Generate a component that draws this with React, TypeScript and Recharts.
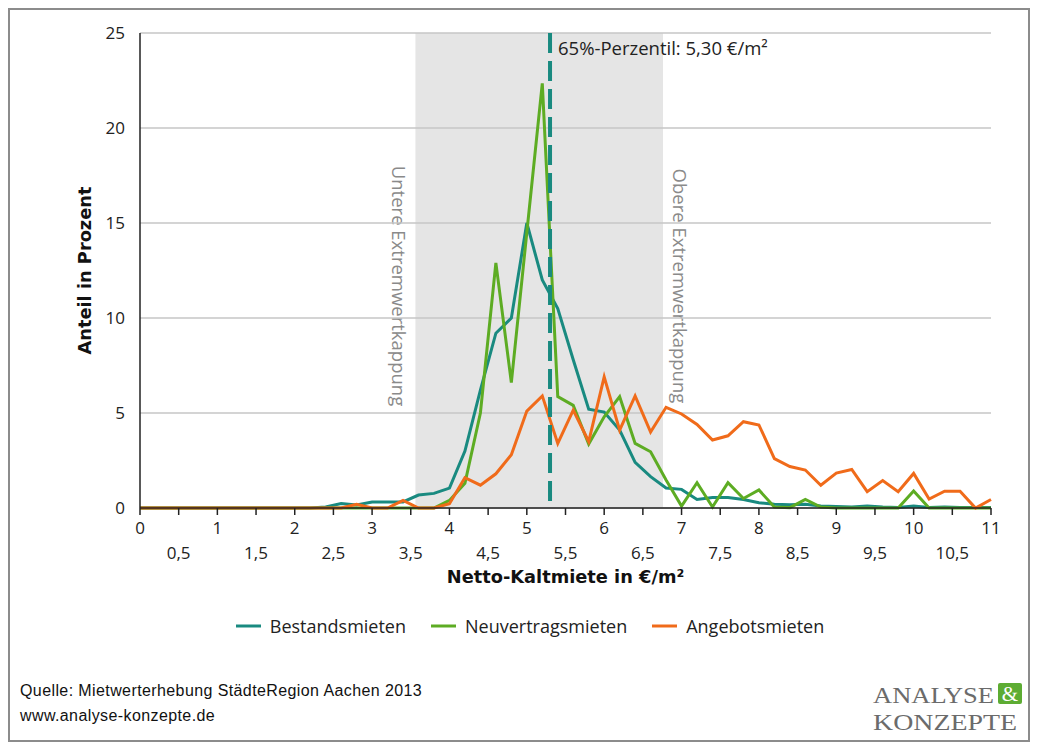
import React from "react"
import {
  LineChart,
  Line,
  XAxis,
  YAxis,
  CartesianGrid,
  ReferenceArea,
  ReferenceLine,
  Legend,
} from "recharts"

// Netto-Kaltmiete in €/m² (Klassenmitte, 0,20 €-Schritte)
const prices = [
  0, 0.2, 0.4, 0.6, 0.8, 1, 1.2, 1.4, 1.6, 1.8, 2, 2.2, 2.4, 2.6, 2.8, 3, 3.2, 3.4, 3.6, 3.8,
  4, 4.2, 4.4, 4.6, 4.8, 5, 5.2, 5.4, 5.6, 5.8, 6, 6.2, 6.4, 6.6, 6.8, 7, 7.2, 7.4, 7.6, 7.8,
  8, 8.2, 8.4, 8.6, 8.8, 9, 9.2, 9.4, 9.6, 9.8, 10, 10.2, 10.4, 10.6, 10.8, 11,
]

// Anteil in Prozent
const bestandsmieten = [
  0, 0, 0, 0, 0, 0, 0, 0, 0, 0, 0, 0, 0.05, 0.23, 0.16, 0.32, 0.32, 0.32, 0.68, 0.77,
  1.05, 3.0, 6.2, 9.2, 10.0, 15.0, 12.0, 10.5, 7.8, 5.2, 5.05, 4.1, 2.4, 1.65, 1.05, 0.98, 0.45, 0.55, 0.55, 0.45,
  0.28, 0.2, 0.17, 0.2, 0.1, 0.08, 0.05, 0.1, 0.05, 0.03, 0.1, 0.03, 0.05, 0.03, 0.02, 0.02,
]

const neuvertragsmieten = [
  0, 0, 0, 0, 0, 0, 0, 0, 0, 0, 0, 0, 0, 0, 0, 0, 0, 0, 0, 0,
  0.4, 1.3, 5.0, 12.9, 6.6, 14.5, 22.35, 5.86, 5.4, 3.37, 4.8, 5.86, 3.4, 2.96, 1.47, 0.1, 1.33, 0.05, 1.33, 0.5,
  0.95, 0.05, 0.02, 0.45, 0.05, 0, 0, 0, 0, 0, 0.9, 0, 0, 0, 0, 0,
]

const angebotsmieten = [
  0, 0, 0, 0, 0, 0, 0, 0, 0, 0, 0, 0, 0, 0, 0.2, 0, 0, 0.4, 0, 0,
  0.22, 1.6, 1.2, 1.8, 2.8, 5.1, 5.9, 3.4, 5.15, 3.5, 6.9, 4.1, 5.9, 4.0, 5.3, 4.95, 4.4, 3.58, 3.8, 4.54,
  4.37, 2.6, 2.18, 2.0, 1.2, 1.84, 2.03, 0.86, 1.44, 0.86, 1.82, 0.47, 0.88, 0.88, 0, 0.45,
]

const xTicks = [0, 0.5, 1, 1.5, 2, 2.5, 3, 3.5, 4, 4.5, 5, 5.5, 6, 6.5, 7, 7.5, 8, 8.5, 9, 9.5, 10, 10.5, 11]
const yTicks = [0, 5, 10, 15, 20, 25]

// Extremwertkappung und Perzentil
const cappingLow = 3.56
const cappingHigh = 6.76
const percentile65 = 5.3

const TEAL = "#198a80"
const GREEN = "#5dac23"
const ORANGE = "#f06b1a"

const seriesInfo = [
  { key: "bestand", name: "Bestandsmieten", color: TEAL },
  { key: "neu", name: "Neuvertragsmieten", color: GREEN },
  { key: "angebot", name: "Angebotsmieten", color: ORANGE },
]

const data = prices.map((price, i) => ({
  price,
  bestand: bestandsmieten[i],
  neu: neuvertragsmieten[i],
  angebot: angebotsmieten[i],
}))

const FONT = "'Open Sans', 'DejaVu Sans', sans-serif"
const BOLD_FONT = "'DejaVu Sans', sans-serif"
const SERIF = "'Liberation Serif', 'DejaVu Serif', serif"

// zweizeilige x-Achse: ganze Zahlen oben, halbe darunter
function XTick(props: any) {
  const { x, y, payload } = props
  const v = payload.value as number
  const isInt = Number.isInteger(v)
  return (
    <text
      x={x}
      y={y}
      dy={isInt ? 17 : 42}
      textAnchor="middle"
      fill="#222"
      fontSize={17}
      fontFamily={FONT}
    >
      {String(v).replace(".", ",")}
    </text>
  )
}

function renderPercentileLabel(props: any) {
  const { viewBox } = props
  return (
    <text x={viewBox.x + 8} y={55} fill="#222" fontSize={18.5} fontFamily={FONT}>
      65%-Perzentil: 5,30 €/m²
    </text>
  )
}

function renderCappingLabels(props: any) {
  const { viewBox } = props
  const left = viewBox.x - 23
  const right = viewBox.x + viewBox.width + 10
  const cy = 286
  return (
    <g fill="#8a8a8a" fontSize={18.5} fontFamily={FONT}>
      <text x={left} y={cy} textAnchor="middle" transform={`rotate(90, ${left}, ${cy})`}>
        Untere Extremwertkappung
      </text>
      <text x={right} y={cy} textAnchor="middle" transform={`rotate(90, ${right}, ${cy})`}>
        Obere Extremwertkappung
      </text>
    </g>
  )
}

function LegendContent() {
  return (
    <div
      style={{
        display: "flex",
        justifyContent: "center",
        alignItems: "center",
        paddingLeft: 48,
        fontFamily: FONT,
        fontSize: 18,
        color: "#222",
      }}
    >
      {seriesInfo.map((s) => (
        <div key={s.key} style={{ display: "flex", alignItems: "center", marginRight: 25 }}>
          <svg width={25} height={6} style={{ marginRight: 9 }}>
            <line x1={0} y1={3} x2={25} y2={3} stroke={s.color} strokeWidth={3} />
          </svg>
          <span>{s.name}</span>
        </div>
      ))}
    </div>
  )
}

export default function App() {
  return (
    <div style={{ position: "absolute", left: 0, top: 0, width: 1037, height: 749, background: "#fff" }}>
      <div
        style={{
          position: "absolute",
          left: 8,
          top: 8,
          width: 1022,
          height: 734,
          boxSizing: "border-box",
          border: "2px solid #8c8c8c",
        }}
      />
      <div style={{ position: "absolute", left: 0, top: 0 }}>
        <LineChart width={1037} height={749} data={data} margin={{ top: 33, right: 46, left: 30, bottom: 163 }}>
          <ReferenceArea
            x1={cappingLow}
            x2={cappingHigh}
            y1={0}
            y2={25}
            fill="#e5e5e5"
            fillOpacity={1}
            stroke="none"
            zIndex={-200}
            label={renderCappingLabels}
          />
          <CartesianGrid horizontal vertical={false} stroke="#c6c6c6" strokeWidth={1.5} />
          <XAxis
            dataKey="price"
            type="number"
            domain={[0, 11]}
            ticks={xTicks}
            interval={0}
            tickSize={7}
            tickLine={{ stroke: "#222", strokeWidth: 1.5 }}
            axisLine={{ stroke: "#222", strokeWidth: 1.5 }}
            height={78}
            tick={<XTick />}
            label={{
              value: "Netto-Kaltmiete in €/m²",
              position: "insideBottom",
              offset: 3,
              style: { fontFamily: BOLD_FONT, fontWeight: "bold", fontSize: 17.8, fill: "#111" },
            }}
          />
          <YAxis
            type="number"
            domain={[0, 25]}
            ticks={yTicks}
            interval={0}
            width={110}
            tickLine={false}
            tickMargin={9}
            axisLine={{ stroke: "#222", strokeWidth: 1.5 }}
            tick={{ fill: "#222", fontSize: 17, fontFamily: FONT }}
            label={{
              value: "Anteil in Prozent",
              angle: -90,
              position: "center",
              style: { fontFamily: BOLD_FONT, fontWeight: "bold", fontSize: 17.8, fill: "#111" },
            }}
          />
          {seriesInfo.map((s) => (
            <Line
              key={s.key}
              type="linear"
              dataKey={s.key}
              name={s.name}
              stroke={s.color}
              strokeWidth={3}
              dot={false}
              activeDot={false}
              isAnimationActive={false}
            />
          ))}
          <ReferenceLine
            segment={[
              { x: percentile65, y: 25 },
              { x: percentile65, y: 0 },
            ]}
            stroke={TEAL}
            strokeWidth={4}
            strokeDasharray="20 8"
            label={renderPercentileLabel}
          />
          <Legend
            layout="horizontal"
            verticalAlign="middle"
            align="center"
            wrapperStyle={{ top: 614, left: 0, width: 1037 }}
            content={<LegendContent />}
          />
        </LineChart>
      </div>
      <svg width={1037} height={749} style={{ position: "absolute", left: 0, top: 0, pointerEvents: "none" }}>
        <g fill="#111" fontSize={16} letterSpacing={0.4} fontFamily="'Liberation Sans', Arial, sans-serif">
          <text x={20} y={696}>Quelle: Mietwerterhebung StädteRegion Aachen 2013</text>
          <text x={20} y={721}>www.analyse-konzepte.de</text>
        </g>
        <g fill="#6b6b6b" fontFamily={SERIF} fontSize={23.5}>
          <text x={873} y={703} textLength={121} lengthAdjust="spacingAndGlyphs">
            ANALYSE
          </text>
          <text x={873} y={730} textLength={144} lengthAdjust="spacingAndGlyphs">
            KONZEPTE
          </text>
        </g>
        <rect x={998} y={683} width={24} height={21} rx={2} fill="#5dac33" />
        <text x={1010} y={701} textAnchor="middle" fill="#fff" fontSize={21} fontFamily={SERIF}>
          &amp;
        </text>
      </svg>
    </div>
  )
}
